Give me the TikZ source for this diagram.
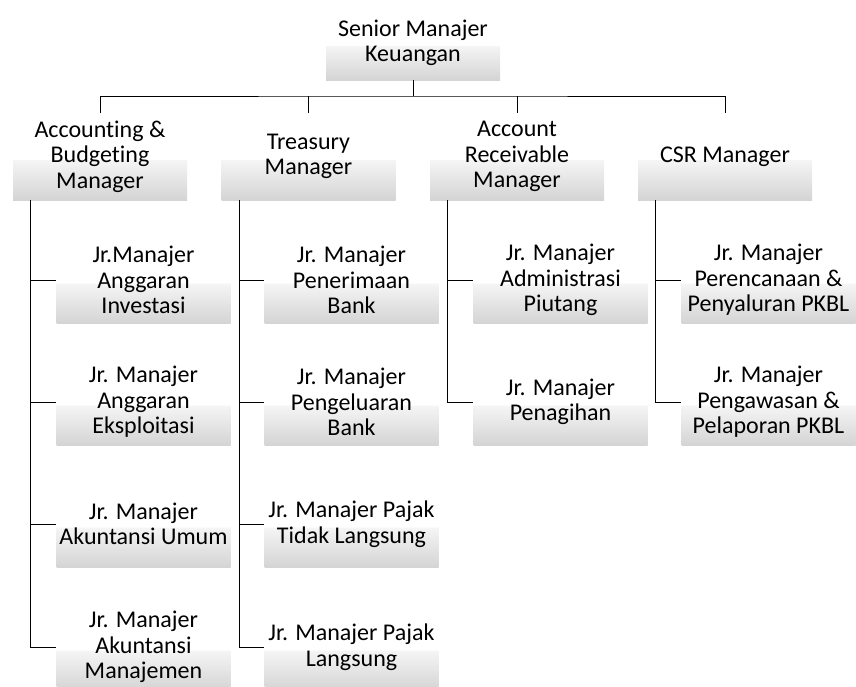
\documentclass[tikz,border=0pt]{standalone}
\usepackage{fontspec}
\setmainfont{Carlito}[Ligatures=NoCommon]
\usepackage{xcolor}
\usepackage{tikz}
\usetikzlibrary{positioning,calc}

\definecolor{boxgray}{RGB}{212,212,212}
\definecolor{boxlight}{RGB}{245,245,245}
\pgfdeclareverticalshading{smartfill}{100bp}{color(0bp)=(boxgray); color(25bp)=(boxgray); color(48bp)=(boxlight); color(48.5bp)=(white); color(100bp)=(white)}

\begin{document}
\begin{tikzpicture}[x=1pt,y=-1pt,
  post/.style={shading=smartfill,minimum width=174pt,minimum height=87pt,inner sep=0pt,
    align=center,font=\fontsize{24}{25.5}\selectfont},
  link/.style={line width=1pt}]
\useasboundingbox (0,0) rectangle (856,686);

\node[post,minimum height=74pt] (senior) at (413,43) {Senior Manajer\\Keuangan};

\node[post] (acc) at (100,156.5) {Accounting \&\\Budgeting\\Manager};
\node[post] (trs) at (308.5,156.5) {Treasury\\Manager};
\node[post] (ar)  at (517,156.5) {Account\\Receivable\\Manager};
\node[post] (csr) at (725,156.5) {CSR Manager};

\node[post] (acc1) at (143.5,280) {Jr.Manajer\\Anggaran\\Investasi};
\node[post] (acc2) at (143.5,402) {Jr. Manajer\\Anggaran\\Eksploitasi};
\node[post] (acc3) at (143.5,524) {Jr. Manajer\\Akuntansi Umum};
\node[post] (acc4) at (143.5,647) {Jr. Manajer\\Akuntansi\\Manajemen};

\node[post] (trs1) at (351.5,280) {Jr. Manajer\\Penerimaan\\Bank};
\node[post] (trs2) at (351.5,402) {Jr. Manajer\\Pengeluaran\\Bank};
\node[post] (trs3) at (351.5,524) {Jr. Manajer Pajak\\Tidak Langsung};
\node[post] (trs4) at (351.5,647) {Jr. Manajer Pajak\\Langsung};

\node[post] (ar1) at (560.5,280) {Jr. Manajer\\Administrasi\\Piutang};
\node[post] (ar2) at (560.5,402) {Jr. Manajer\\Penagihan};

\node[post] (csr1) at (768.5,280) {Jr. Manajer\\Perencanaan \&\\Penyaluran PKBL};
\node[post] (csr2) at (768.5,402) {Jr. Manajer\\Pengawasan \&\\Pelaporan PKBL};

% senior to managers
\coordinate (bar) at (413,96);
\draw[link] (senior.south) -- (bar);
\draw[link] (acc.north) |- (bar) -| (csr.north);
\draw[link] (trs.north) -- (trs.north |- bar);
\draw[link] (ar.north) -- (ar.north |- bar);

% managers to juniors
\foreach \m/\last in {acc/4,trs/4,ar/2,csr/2}{
  \draw[link] ([xshift=18pt]\m.south west) |- (\m\last.west);
  \foreach \k in {1,...,\last}
    \draw[link] ([xshift=18pt]\m.south west) |- (\m\k.west);
}
\end{tikzpicture}
\end{document}
